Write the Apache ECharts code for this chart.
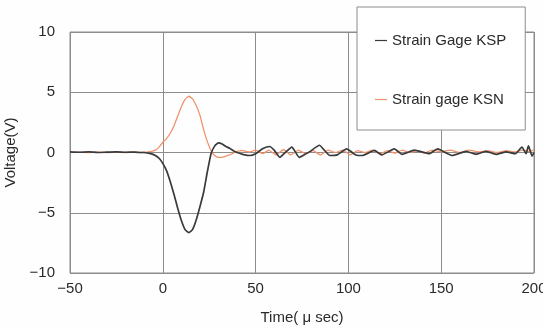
<!DOCTYPE html>
<html><head><meta charset="utf-8">
<script src="https://cdn.jsdelivr.net/npm/echarts@6/dist/echarts.min.js"></script>
<style>html,body{margin:0;padding:0;background:#fff}#c{width:543px;height:329px}</style>
</head><body><div id="c"></div>
<script>
// Strain Gage KSP (dark)
const kspTime = [-50,-45,-40,-35,-30,-25,-20,-15,-12,-10,-8,-6,-4,-2,0,2,4,6,8,10,12,14,16,18,20,22,24,26,28,30,32,34,36,38,40,43,47,50,54,57.5,60,63,66,69.5,73.5,76,79,84.4,87,90,94,99,104,107.5,114,118,124.7,129,135.5,143.5,148,156,163.4,168.8,174,179.5,185,190,193.5,195.7,197,199,200];
const kspVolt = [0.05,0.02,0.05,0,0.03,0.05,0.02,0.03,0,0,-0.05,-0.11,-0.25,-0.48,-0.9,-1.5,-2.4,-3.46,-4.6,-5.65,-6.4,-6.65,-6.4,-5.6,-4.5,-3.3,-1.6,-0.1,0.55,0.8,0.7,0.5,0.35,0.15,0,-0.15,-0.25,-0.1,0.33,0.5,0.2,-0.4,0,0.45,-0.4,-0.2,0.05,0.6,0.2,-0.25,-0.2,0.3,-0.2,-0.25,0.17,-0.2,0.3,-0.15,0.2,-0.1,0.3,-0.25,0.1,-0.15,0.1,-0.15,0.05,-0.1,0.45,-0.1,0.55,-0.3,0];
// Strain gage KSN (orange)
const ksnTime = [-50,-45,-40,-35,-30,-25,-20,-15,-12,-10,-8,-6,-4,-2,0,2,4,6,8,10,12,14,16,18,20,22,24,26,28,30,32,34,36,38,40,43,47,50,54,57,61,65,69,73,77,81,85,89,93,97,101,105,109,113,117,121,125,129,133,137,141,145,150,155,160,165,170,175,180,185,190,194,197,200];
const ksnVolt = [0,0.03,0,0.02,0,0.03,0,0.02,0,0.02,0.05,0.1,0.2,0.45,0.85,1.15,1.6,2.2,3.0,3.8,4.4,4.67,4.45,3.9,3.1,1.9,0.9,0.15,-0.25,-0.4,-0.4,-0.3,-0.2,-0.05,0.1,0.15,0.05,0.2,-0.1,0.2,-0.2,0.25,-0.2,0.2,-0.1,0.15,-0.2,0.2,0,0.2,-0.2,0.15,0,0.2,-0.1,0.15,-0.05,0.2,0,0.15,-0.05,0.2,0.05,0.2,0,0.2,0.05,0.15,0,0.15,0.05,0.2,0.1,0.2];
const xTicks = [-50, 0, 50, 100, 150, 200];
const yTicks = [-10, -5, 0, 5, 10];

const font = '"Liberation Sans", Arial, sans-serif';
const txt = '#2a2a2a';
const fmt = v => String(v).replace('-', '\u2212');
const chart = echarts.init(document.getElementById('c'));
chart.setOption({
  animation: false,
  backgroundColor: '#fefefe',
  textStyle: { fontFamily: font },
  grid: { left: 70, right: 9, top: 32, bottom: 56, containLabel: false, outerBoundsMode: 'none',
    show: true, borderColor: '#8c8c8c', borderWidth: 1 },
  legend: {
    orient: 'vertical', left: 357, top: 7,
    padding: [26, 19, 23, 18],
    backgroundColor: '#fff', borderColor: '#8c8c8c', borderWidth: 1,
    itemWidth: 12, itemHeight: 16, itemGap: 44,
    icon: 'path://M0,7.4 L12,7.4 L12,8.6 L0,8.6 Z',
    textStyle: { fontFamily: font, fontSize: 15, color: txt },
    data: ['Strain Gage KSP', 'Strain gage KSN']
  },
  xAxis: {
    type: 'value', min: xTicks[0], max: xTicks[xTicks.length - 1], interval: 50,
    name: 'Time( μ sec)', nameLocation: 'middle', nameGap: 37,
    nameTextStyle: { fontFamily: font, fontSize: 15, color: txt },
    axisLine: { show: false }, axisTick: { show: false },
    axisLabel: { fontFamily: font, fontSize: 15, color: txt, margin: 8, formatter: fmt },
    splitLine: { show: true, lineStyle: { color: '#8c8c8c', width: 1 } }
  },
  yAxis: {
    type: 'value', min: yTicks[0], max: yTicks[yTicks.length - 1], interval: 5,
    name: 'Voltage(V)', nameLocation: 'middle', nameGap: 46,
    nameTextStyle: { fontFamily: font, fontSize: 15, color: txt },
    axisLine: { show: false }, axisTick: { show: false },
    axisLabel: { fontFamily: font, fontSize: 15, color: txt, margin: 15, formatter: fmt },
    splitLine: { show: true, lineStyle: { color: '#8c8c8c', width: 1 } }
  },
  series: [
    { name: 'Strain Gage KSP', type: 'line', showSymbol: false, smooth: 0.15, z: 3,
      color: '#3a3a3a', lineStyle: { color: '#3a3a3a', width: 1.7 },
      data: kspTime.map((t, i) => [t, kspVolt[i]]) },
    { name: 'Strain gage KSN', type: 'line', showSymbol: false, smooth: 0.15, z: 2,
      color: '#f0926a', lineStyle: { color: '#f0926a', width: 1.3 },
      data: ksnTime.map((t, i) => [t, ksnVolt[i]]) }
  ]
});
</script></body></html>
